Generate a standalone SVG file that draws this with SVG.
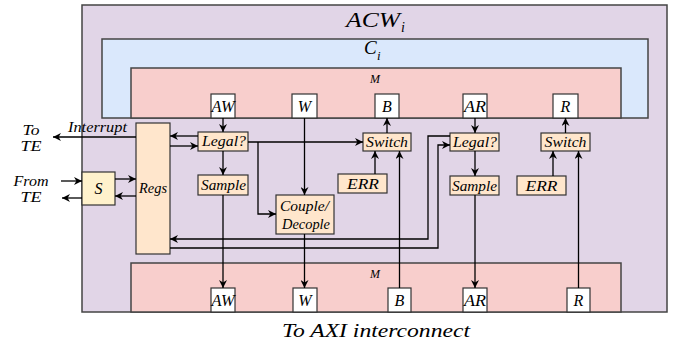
<svg xmlns="http://www.w3.org/2000/svg" width="688" height="348" viewBox="0 0 688 348">
<defs>
<style>
.t{font-family:"Liberation Serif","Times New Roman",serif;font-style:italic;fill:#000}
.c{text-anchor:middle}
.big{stroke:#444;stroke-width:1.5}
.blk{fill:#ffe6cc;stroke:#333;stroke-width:1.2}
.port{fill:#fff;stroke:#333;stroke-width:1.2}
.ln{fill:none;stroke:#000;stroke-width:1.3;marker-end:url(#ah)}
</style>
<marker id="ah" viewBox="0 0 10 10" refX="10" refY="5" markerWidth="8" markerHeight="8" orient="auto" markerUnits="userSpaceOnUse">
<path d="M0,0 L10,5 L0,10 L3,5 z" fill="#000"/>
</marker>
</defs>

<g id="acw">
<rect x="82" y="5" width="585" height="307" fill="#e1d5e7" class="big"/>
<text class="t" x="346" y="27" font-size="21" textLength="54" lengthAdjust="spacingAndGlyphs">ACW</text>
<text class="t" x="401" y="32" font-size="14">i</text>
</g>
<g id="ci">
<rect x="102" y="39" width="546" height="79" fill="#dae8fc" class="big"/>
<text class="t" x="364" y="54" font-size="19">C</text>
<text class="t" x="377" y="60" font-size="13">i</text>
</g>
<g id="m-top">
<rect x="131" y="68" width="490" height="50" fill="#f8cecc" class="big"/>
<text class="t c" x="375" y="83" font-size="12">M</text>
</g>
<g id="m-bot">
<rect x="131" y="263" width="490" height="49" fill="#f8cecc" class="big"/>
<text class="t c" x="375" y="278" font-size="12">M</text>
</g>

<g id="aw-top"><rect x="211" y="94" width="24" height="24" class="port"/><text class="t c" x="223" y="111.5" font-size="16" textLength="23" lengthAdjust="spacingAndGlyphs">AW</text></g>
<g id="w-top"><rect x="292" y="94" width="25" height="24" class="port"/><text class="t c" x="304.5" y="111.5" font-size="16">W</text></g>
<g id="b-top"><rect x="375" y="94" width="24" height="24" class="port"/><text class="t c" x="387" y="111.5" font-size="16">B</text></g>
<g id="ar-top"><rect x="463" y="94" width="24" height="24" class="port"/><text class="t c" x="475" y="111.5" font-size="16" textLength="22" lengthAdjust="spacingAndGlyphs">AR</text></g>
<g id="r-top"><rect x="553" y="94" width="25" height="24" class="port"/><text class="t c" x="565.5" y="111.5" font-size="16">R</text></g>

<g id="aw-bot"><rect x="211" y="288" width="24" height="24" class="port"/><text class="t c" x="223" y="305.5" font-size="16" textLength="23" lengthAdjust="spacingAndGlyphs">AW</text></g>
<g id="w-bot"><rect x="293" y="288" width="24" height="24" class="port"/><text class="t c" x="305" y="305.5" font-size="16">W</text></g>
<g id="b-bot"><rect x="388" y="288" width="23" height="24" class="port"/><text class="t c" x="399.5" y="305.5" font-size="16">B</text></g>
<g id="ar-bot"><rect x="463" y="288" width="24" height="24" class="port"/><text class="t c" x="475" y="305.5" font-size="16" textLength="22" lengthAdjust="spacingAndGlyphs">AR</text></g>
<g id="r-bot"><rect x="567" y="288" width="23" height="24" class="port"/><text class="t c" x="578.5" y="305.5" font-size="16">R</text></g>

<g id="regs"><rect x="136" y="123" width="34" height="131" class="blk"/><text class="t c" x="153" y="193" font-size="15" textLength="28" lengthAdjust="spacingAndGlyphs">Regs</text></g>
<g id="s"><rect x="82" y="172" width="33" height="33" fill="#fff2cc" stroke="#333" stroke-width="1.2"/><text class="t c" x="98.5" y="193.5" font-size="16">S</text></g>

<g id="legal1"><rect x="198" y="132" width="50" height="19" class="blk"/><text class="t c" x="224" y="146" font-size="15" textLength="44" lengthAdjust="spacingAndGlyphs">Legal?</text></g>
<g id="sample1"><rect x="198" y="175" width="50" height="20" class="blk"/><text class="t c" x="223.5" y="189.5" font-size="15" textLength="45" lengthAdjust="spacingAndGlyphs">Sample</text></g>
<g id="couple"><rect x="276" y="195" width="58" height="39" class="blk"/><text class="t c" x="304.5" y="210.5" font-size="15" textLength="49" lengthAdjust="spacingAndGlyphs">Couple/</text><text class="t c" x="306" y="229" font-size="15" textLength="48" lengthAdjust="spacingAndGlyphs">Decople</text></g>
<g id="switch1"><rect x="363" y="133" width="48" height="18" class="blk"/><text class="t c" x="387" y="146.5" font-size="15" textLength="42" lengthAdjust="spacingAndGlyphs">Switch</text></g>
<g id="err1"><rect x="338" y="174" width="49" height="19" class="blk"/><text class="t c" x="363" y="188.5" font-size="15" textLength="32" lengthAdjust="spacingAndGlyphs">ERR</text></g>
<g id="legal2"><rect x="450" y="133" width="49" height="18" class="blk"/><text class="t c" x="475" y="146.5" font-size="15" textLength="44" lengthAdjust="spacingAndGlyphs">Legal?</text></g>
<g id="sample2"><rect x="450" y="176" width="49" height="19" class="blk"/><text class="t c" x="474.5" y="190.5" font-size="15" textLength="45" lengthAdjust="spacingAndGlyphs">Sample</text></g>
<g id="switch2"><rect x="541" y="133" width="49" height="18" class="blk"/><text class="t c" x="565.5" y="146.5" font-size="15" textLength="42" lengthAdjust="spacingAndGlyphs">Switch</text></g>
<g id="err2"><rect x="517" y="176" width="49" height="19" class="blk"/><text class="t c" x="541.5" y="190.5" font-size="15" textLength="32" lengthAdjust="spacingAndGlyphs">ERR</text></g>

<g id="labels">
<text class="t" x="68" y="132" font-size="14" textLength="59" lengthAdjust="spacingAndGlyphs">Interrupt</text>
<text class="t c" x="31" y="135" font-size="14" textLength="17" lengthAdjust="spacingAndGlyphs">To</text>
<text class="t c" x="31" y="151" font-size="14" textLength="21" lengthAdjust="spacingAndGlyphs">TE</text>
<text class="t c" x="31" y="186" font-size="14" textLength="35" lengthAdjust="spacingAndGlyphs">From</text>
<text class="t c" x="31" y="202" font-size="14" textLength="21" lengthAdjust="spacingAndGlyphs">TE</text>
<text class="t" x="282" y="337" font-size="19" textLength="188" lengthAdjust="spacingAndGlyphs">To AXI interconnect</text>
</g>

<g id="connectors">
<path class="ln" d="M223,118 V132"/>
<path class="ln" d="M198,136 H170"/>
<path class="ln" d="M170,146 H198"/>
<path class="ln" d="M223,151 V175"/>
<path class="ln" d="M223,195 V288"/>
<path class="ln" d="M248,142 H363"/>
<path class="ln" d="M258,142 V214 H276"/>
<path class="ln" d="M304.5,118 V195"/>
<path class="ln" d="M304.5,234 V288"/>
<path class="ln" d="M387,133 V118"/>
<path class="ln" d="M375,174 V151"/>
<path class="ln" d="M399.5,288 V151"/>
<path class="ln" d="M565.5,133 V118"/>
<path class="ln" d="M553,176 V151"/>
<path class="ln" d="M578.5,288 V151"/>
<path class="ln" d="M475,118 V133"/>
<path class="ln" d="M475,151 V176"/>
<path class="ln" d="M475,195 V288"/>
<path class="ln" d="M450,136 H428 V239 H170"/>
<path class="ln" d="M170,248 H438 V145 H450"/>
<path class="ln" d="M136,137 H53"/>
<path class="ln" d="M61,181 H82"/>
<path class="ln" d="M82,198 H62"/>
<path class="ln" d="M115,179 H136"/>
<path class="ln" d="M136,196 H115"/>
</g>
</svg>
